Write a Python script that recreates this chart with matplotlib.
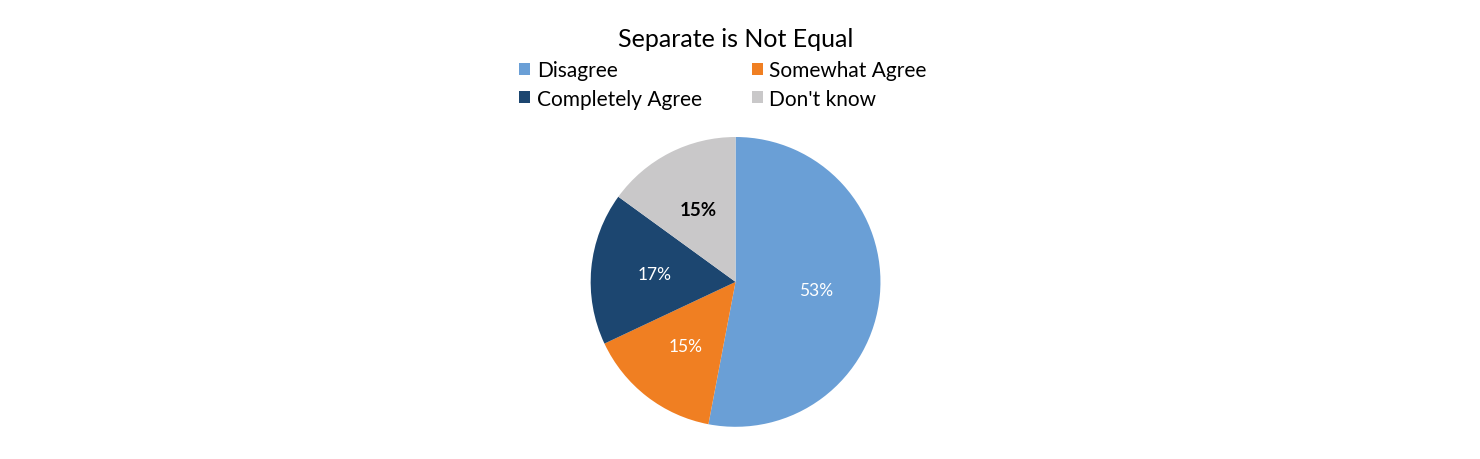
import matplotlib
matplotlib.use("Agg")
import matplotlib.pyplot as plt
from matplotlib.patches import Patch

plt.rcParams['font.family'] = ['Lato', 'DejaVu Sans']

labels = ["Disagree", "Somewhat Agree", "Completely Agree", "Don't know"]
values = [53, 15, 17, 15]
colors = ["#6A9FD6", "#F07F22", "#1C4670", "#C9C8C9"]
text_colors = ["white", "white", "white", "black"]

fig = plt.figure(figsize=(14.8, 4.6), dpi=100)
ax = fig.add_axes([0.497 - 0.098, 0.385 - 0.315, 0.196, 0.63])
wedges, texts, autotexts = ax.pie(values, colors=colors, startangle=90, counterclock=False,
                                  autopct=lambda p: f"{round(p)}%", pctdistance=0.56,
                                  textprops={'fontsize': 12.5})
for t, c in zip(autotexts, text_colors):
    t.set_color(c)
autotexts[3].set_fontweight('bold')
autotexts[3].set_fontsize(13.5)
ax.set_xlim(-1.0, 1.0)
ax.set_ylim(-1.0, 1.0)
ax.set_aspect('equal')

fig.text(0.497, 0.915, "Separate is Not Equal", ha='center', va='center', fontsize=18)

handles = [Patch(facecolor=c, edgecolor='none') for c in colors]
order = [0, 2, 1, 3]
fig.legend([handles[i] for i in order], [labels[i] for i in order], ncol=2,
           loc='upper left', bbox_to_anchor=(0.345, 0.885), frameon=False,
           fontsize=15, handlelength=0.55, handleheight=0.55, handletextpad=0.3,
           columnspacing=2.4, labelspacing=0.4, borderaxespad=0)

fig.savefig("out.png", dpi=100)
